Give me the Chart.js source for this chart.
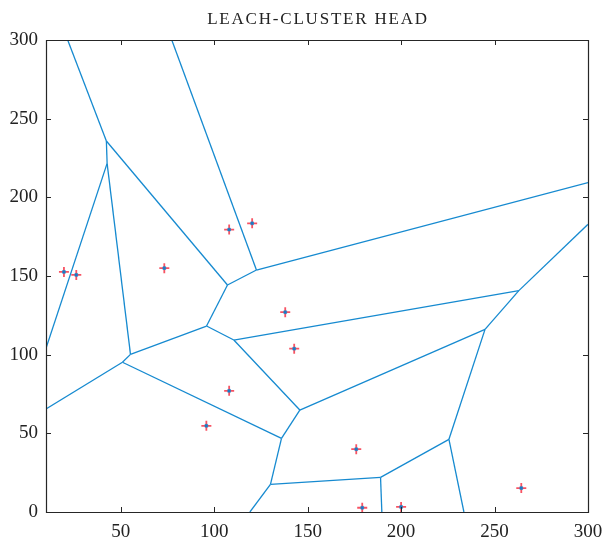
<!DOCTYPE html>
<html>
<head>
<meta charset="utf-8">
<script src="https://cdn.jsdelivr.net/npm/chart.js@4.4.1/dist/chart.umd.min.js"></script>
<style>
  html, body { margin: 0; padding: 0; background: #ffffff; }
  #wrap { width: 605px; height: 540px; position: relative; }
</style>
</head>
<body>
<div id="wrap"><canvas id="c" width="605" height="540"></canvas></div>
<script>
// Chart title
const chartTitle = 'LEACH-CLUSTER HEAD';

// Cluster head positions
const headX = [19.6, 26.2, 73.3, 108.0, 120.3, 138.0, 142.8, 108.0, 95.8, 176.0, 179.2, 200.0, 264.3];
const headY = [152.6, 150.7, 155.0, 179.5, 183.5, 127.0, 103.8, 77.0, 54.8, 39.9, 2.7, 3.2, 15.2];

// Voronoi vertices (including where edges meet the plot border)
const vertX = [42.3, 42.7, 107.1, 55.2, 122.6, 95.9, 110.5, 263.0, 244.9, 145.8, 136.0, 50.9, 130.1, 189.0, 225.6,
               21.6, 77.3, 10, 10, 300, 300, 119.1, 189.7, 233.6];
const vertY = [235.8, 221.6, 144.3, 100.2, 153.8, 118.2, 109.3, 140.7, 116.1, 64.8, 46.8, 95.2, 17.6, 22.0, 46.2,
               300, 300, 104.0, 65.5, 209.3, 182.9, 0, 0, 0];

// Voronoi edges as pairs of vertex indices
const edgeFrom = [15, 0, 0, 1, 1, 16, 2, 4, 2, 5, 5, 6, 7, 7, 8, 6, 9, 3, 11, 11, 10, 12, 12, 13, 13, 14, 14];
const edgeTo   = [0, 1, 2, 17, 3, 4, 4, 19, 5, 3, 6, 7, 20, 8, 9, 9, 10, 11, 18, 10, 12, 21, 13, 22, 14, 23, 8];

const xTicks = [50, 100, 150, 200, 250, 300];
const yTicks = [0, 50, 100, 150, 200, 250, 300];

const LINE = '#168ad0';
const SERIF = '"Liberation Serif", "DejaVu Serif", serif';
const datasets = [];
for (let i = 0; i < edgeFrom.length; i++) {
  const a = edgeFrom[i], b = edgeTo[i];
  datasets.push({
    type: 'scatter',
    showLine: true,
    data: [{x: vertX[a], y: vertY[a]}, {x: vertX[b], y: vertY[b]}],
    borderColor: LINE,
    borderWidth: 1.3,
    pointRadius: 0,
    pointHoverRadius: 0,
    fill: false,
    order: 3
  });
}
const heads = headX.map((x, i) => ({x: x, y: headY[i]}));
datasets.push({
  type: 'scatter',
  data: heads,
  pointStyle: 'cross',
  pointRadius: 5,
  borderColor: 'rgba(245,40,60,0.8)',
  backgroundColor: 'rgba(245,40,60,0.8)',
  borderWidth: 1.8,
  showLine: false,
  order: 2
});
datasets.push({
  type: 'scatter',
  data: heads,
  pointStyle: 'rect',
  pointRadius: 2,
  borderColor: '#1a7cc6',
  backgroundColor: '#1a7cc6',
  borderWidth: 0.5,
  showLine: false,
  order: 1
});

const boxTicks = {
  id: 'boxTicks',
  afterDraw(chart) {
    const ctx = chart.ctx, a = chart.chartArea;
    const xs = chart.scales.x, ys = chart.scales.y;
    ctx.save();
    ctx.strokeStyle = '#262626';
    ctx.lineWidth = 1.2;
    ctx.beginPath();
    ctx.rect(Math.round(a.left) + 0.5, Math.round(a.top) + 0.5, Math.round(a.right - a.left), Math.round(a.bottom - a.top));
    ctx.stroke();
    const L = 5;
    ctx.lineWidth = 1;
    ctx.beginPath();
    xTicks.forEach(v => {
      const px = Math.round(xs.getPixelForValue(v)) + 0.5;
      ctx.moveTo(px, a.bottom); ctx.lineTo(px, a.bottom - L);
      ctx.moveTo(px, a.top); ctx.lineTo(px, a.top + L);
    });
    yTicks.forEach(v => {
      const py = Math.round(ys.getPixelForValue(v)) + 0.5;
      ctx.moveTo(a.left, py); ctx.lineTo(a.left + L, py);
      ctx.moveTo(a.right, py); ctx.lineTo(a.right - L, py);
    });
    ctx.stroke();
    // title centred over the plot area
    ctx.fillStyle = '#222222';
    ctx.font = '17px ' + SERIF;
    ctx.textAlign = 'center';
    ctx.textBaseline = 'middle';
    try { ctx.letterSpacing = '1.8px'; } catch (e) {}
    ctx.fillText(chartTitle, (a.left + a.right) / 2 + 1, 20);
    ctx.restore();
  }
};

new Chart(document.getElementById('c'), {
  type: 'scatter',
  data: { datasets: datasets },
  options: {
    responsive: false,
    animation: false,
    events: [],
    layout: { padding: { left: 0, right: 17, top: 40, bottom: 0 } },
    plugins: {
      legend: { display: false },
      tooltip: { enabled: false },
      title: { display: false }
    },
    scales: {
      x: {
        type: 'linear',
        min: 10, max: 300,
        afterBuildTicks: s => { s.ticks = xTicks.map(v => ({value: v})); },
        afterFit: s => { s.height = 28; s.paddingLeft = 0; s.paddingRight = 0; },
        grid: { display: false, drawTicks: false },
        border: { display: false },
        ticks: {
          color: '#222222',
          padding: 9,
          maxRotation: 0,
          autoSkip: false,
          font: { family: SERIF, size: 19 }
        }
      },
      y: {
        type: 'linear',
        min: 0, max: 300,
        afterBuildTicks: s => { s.ticks = yTicks.map(v => ({value: v})); },
        afterFit: s => { s.width = 46; s.paddingTop = 0; s.paddingBottom = 0; },
        grid: { display: false, drawTicks: false },
        border: { display: false },
        ticks: {
          color: '#222222',
          padding: 8,
          autoSkip: false,
          font: { family: SERIF, size: 19 }
        }
      }
    }
  },
  plugins: [boxTicks]
});
</script>
</body>
</html>
